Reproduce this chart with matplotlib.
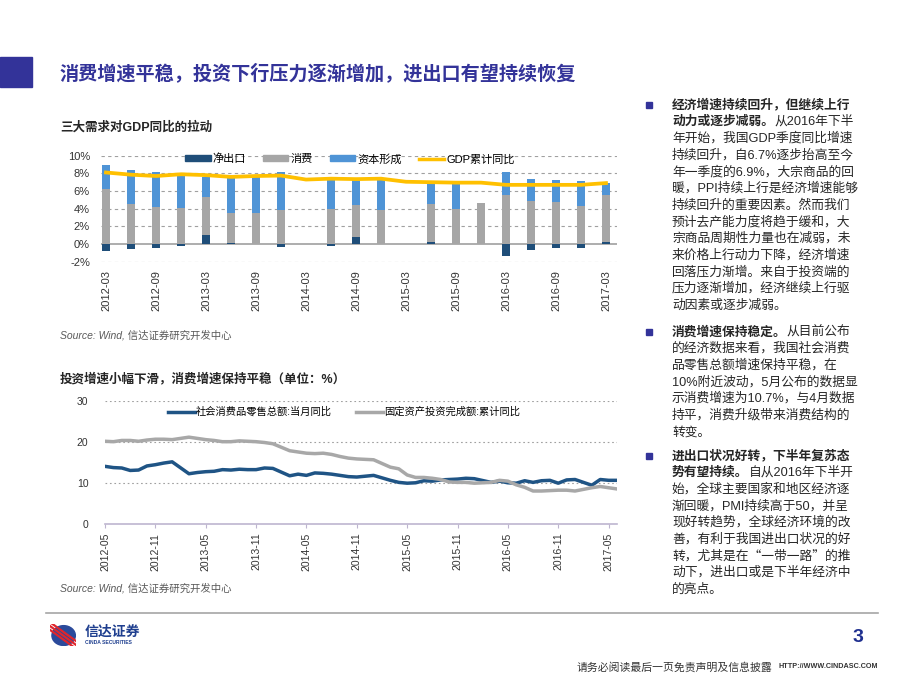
import matplotlib
matplotlib.use('Agg')
import matplotlib.pyplot as plt
import numpy as np
from matplotlib.patches import Rectangle, Patch, Circle
from matplotlib.lines import Line2D

# ---------------- data ----------------
quarters = ["2012-03", "2012-06", "2012-09", "2012-12", "2013-03", "2013-06", "2013-09",
            "2013-12", "2014-03", "2014-06", "2014-09", "2014-12", "2015-03", "2015-06",
            "2015-09", "2015-12", "2016-03", "2016-06", "2016-09", "2016-12", "2017-03"]
net_export = [-0.8, -0.6, -0.4, -0.2, 1.0, 0.1, 0.05, -0.3, np.nan, -0.2, 0.8, 0.0,
              np.nan, 0.25, 0.05, 0.0, -1.4, -0.7, -0.5, -0.5, 0.25]
consumption = [6.2, 4.5, 4.2, 4.1, 4.3, 3.4, 3.45, 3.9, np.nan, 4.0, 3.6, 3.8,
               np.nan, 4.25, 3.95, 4.6, 5.6, 4.9, 4.8, 4.3, 5.35]
capital = [2.7, 3.9, 3.9, 3.6, 2.25, 4.0, 4.05, 4.2, np.nan, 3.3, 2.9, 3.5,
           np.nan, 2.4, 2.9, 0.0, 2.5, 2.5, 2.5, 2.8, 1.3]
gdp_cum = [8.1, 7.85, 7.7, 7.9, 7.8, 7.6, 7.7, 7.75, 7.3, 7.4, 7.35, 7.4,
           7.05, 7.0, 6.95, 6.95, 6.7, 6.7, 6.7, 6.7, 6.9]
bar_legend = ["净出口", "消费", "资本形成", "GDP累计同比"]

# monthly data (January merged into February, as published)
months = ["2012-04", "2012-05", "2012-06", "2012-07", "2012-08", "2012-09", "2012-10", "2012-11", "2012-12",
          "2013-02", "2013-03", "2013-04", "2013-05", "2013-06", "2013-07", "2013-08", "2013-09", "2013-10", "2013-11", "2013-12",
          "2014-02", "2014-03", "2014-04", "2014-05", "2014-06", "2014-07", "2014-08", "2014-09", "2014-10", "2014-11", "2014-12",
          "2015-02", "2015-03", "2015-04", "2015-05", "2015-06", "2015-07", "2015-08", "2015-09", "2015-10", "2015-11", "2015-12",
          "2016-02", "2016-03", "2016-04", "2016-05", "2016-06", "2016-07", "2016-08", "2016-09", "2016-10", "2016-11", "2016-12",
          "2017-02", "2017-03", "2017-04", "2017-05"]
retail_yoy = [14.1, 13.8, 13.7, 13.1, 13.2, 14.2, 14.5, 14.9, 15.2,
              12.3, 12.6, 12.8, 12.9, 13.3, 13.2, 13.4, 13.3, 13.3, 13.7, 13.6,
              11.8, 12.2, 11.9, 12.5, 12.4, 12.2, 11.9, 11.6, 11.5, 11.7, 11.9,
              10.7, 10.2, 10.0, 10.1, 10.6, 10.5, 10.8, 10.9, 11.0, 11.2, 11.1,
              10.2, 10.5, 10.1, 10.0, 10.6, 10.2, 10.6, 10.7, 10.0, 10.8, 10.9,
              9.5, 10.9, 10.7, 10.7]
fai_cum_yoy = [20.2, 20.1, 20.4, 20.4, 20.2, 20.5, 20.7, 20.7, 20.6,
               21.2, 20.9, 20.6, 20.4, 20.1, 20.1, 20.3, 20.2, 20.1, 19.9, 19.6,
               17.9, 17.6, 17.3, 17.2, 17.3, 17.0, 16.5, 16.1, 15.9, 15.8, 15.7,
               13.9, 13.5, 12.0, 11.4, 11.4, 11.2, 10.9, 10.3, 10.2, 10.2, 10.0,
               10.2, 10.7, 10.5, 9.6, 9.0, 8.1, 8.1, 8.2, 8.3, 8.3, 8.1,
               8.9, 9.2, 8.9, 8.6]
month_ticks = ["2012-05", "2012-11", "2013-05", "2013-11", "2014-05", "2014-11",
               "2015-05", "2015-11", "2016-05", "2016-11", "2017-05"]
line_legend = ["社会消费品零售总额:当月同比", "固定资产投资完成额:累计同比"]

# ---------------- layout helpers ----------------
W, H = 920, 690
plt.rcParams['font.family'] = ['Liberation Sans', 'Noto Sans CJK SC', 'DejaVu Sans']
fig = plt.figure(figsize=(W / 100, H / 100), dpi=100)


def fx(x):
    return x / W


def fy(y):
    return 1 - y / H


def rect(l, t, r, b):
    return [l / W, 1 - b / H, (r - l) / W, (b - t) / H]


NAVY = '#333399'
TXT = '#262626'

# header
fig.patches.append(Rectangle((0, fy(87)), fx(32), 30 / H, transform=fig.transFigure,
                             color=NAVY, zorder=1))
fig.text(fx(60), fy(73), "消费增速平稳，投资下行压力逐渐增加，进出口有望持续恢复",
         fontsize=13.8, weight='bold', color=NAVY, va='center')

# ---------------- bar chart ----------------
fig.text(fx(60), fy(127), "三大需求对GDP同比的拉动", fontsize=9, weight='bold',
         color=TXT, va='center')
ax1 = fig.add_axes(rect(101, 155.7, 617, 261.7))
x = np.arange(len(quarters))
ne = np.array(net_export, dtype=float)
co = np.array(consumption, dtype=float)
ca = np.array(capital, dtype=float)
cons_bottom = np.where(ne > 0, ne, 0.0)
cap_bottom = cons_bottom + co
c_net, c_con, c_cap = '#1F4E79', '#A6A6A6', '#4F94D6'
bw = 0.35
ax1.bar(x, ne, width=bw, color=c_net, zorder=2)
ax1.bar(x, co, width=bw, bottom=cons_bottom, color=c_con, zorder=2)
ax1.bar(x, ca, width=bw, bottom=cap_bottom, color=c_cap, zorder=2)
ax1.plot(x, gdp_cum, color='#FFC000', lw=2.7, zorder=3)
ax1.axhline(0, color='#A0A0A0', lw=1.2, zorder=1)
ax1.set_xlim(-0.2, 20.44)
ax1.set_ylim(-2, 10)
ax1.set_yticks(np.arange(-2, 11, 2))
ax1.set_yticklabels([f"{v}%" for v in range(-2, 11, 2)])
ax1.set_xticks(x[::2])
ax1.set_xticklabels(quarters[::2], rotation=90)
for v in range(-2, 11, 2):
    if v != 0:
        ax1.axhline(v, color='#A0A0A0', lw=0.8, ls=(0, (3, 3)), zorder=0)
for s in ax1.spines.values():
    s.set_visible(False)
ax1.tick_params(length=0, labelsize=8, colors='#333333', pad=6)
ax1.tick_params(axis='y', pad=8)
handles = [Patch(color=c_net), Patch(color=c_con), Patch(color=c_cap),
           Line2D([], [], color='#FFC000', lw=2.5)]
ax1.legend(handles, bar_legend, loc='center left', bbox_to_anchor=(0.163, 0.969), ncol=4,
           frameon=False, fontsize=8, handlelength=2.3, handleheight=0.45,
           handletextpad=0.2, columnspacing=1.5, borderpad=0, borderaxespad=0)
fig.text(fx(60), fy(335), "Source: Wind, 信达证券研究开发中心", fontsize=7.5,
         style='italic', color='#595959', va='center')

# ---------------- line chart ----------------
fig.text(fx(60), fy(379), "投资增速小幅下滑，消费增速保持平稳（单位：%）", fontsize=9,
         weight='bold', color=TXT, va='center')
ax2 = fig.add_axes(rect(105, 401, 617, 524.3))
mpos = np.array([(int(m[:4]) - 2012) * 12 + int(m[5:]) - 4 for m in months])
ax2.plot(mpos, retail_yoy, color='#1F5485', lw=2.5, zorder=3)
ax2.plot(mpos, fai_cum_yoy, color='#A8A8A8', lw=2.5, zorder=3)
ax2.set_xlim(0, 61)
ax2.set_ylim(0, 30)
ax2.set_yticks([0, 10, 20, 30])
for v in (10, 20, 30):
    ax2.axhline(v, color='#A0A0A0', lw=0.8, ls=(0, (1.5, 2.5)), zorder=0)
ax2.set_xticks(np.arange(0, 61, 6))
ax2.set_xticklabels(month_ticks, rotation=90)
for k, s in ax2.spines.items():
    s.set_visible(k == 'bottom')
ax2.spines['bottom'].set_color('#BDB5CF')
ax2.spines['bottom'].set_linewidth(1.2)
ax2.tick_params(axis='x', length=3, color='#BDB5CF', labelsize=7.5, labelcolor='#333333', pad=3)
ax2.tick_params(axis='y', length=0, labelsize=7.5, colors='#333333', pad=12)
ax2.legend([Line2D([], [], color='#1F5485', lw=2.5), Line2D([], [], color='#A8A8A8', lw=2.5)],
           line_legend, loc='center left', bbox_to_anchor=(0.123, 0.911), ncol=2,
           frameon=False, fontsize=7.4, handlelength=2.6, handletextpad=0.15,
           columnspacing=2.3, borderpad=0, borderaxespad=0)
fig.text(fx(60), fy(588), "Source: Wind, 信达证券研究开发中心", fontsize=7.5,
         style='italic', color='#595959', va='center')

# ---------------- right text column ----------------
paras = [
    (105, [("经济增速持续回升，但继续上行", ""),
           ("动力或逐步减弱。", "从2016年下半"),
           ("", "年开始，我国GDP季度同比增速"),
           ("", "持续回升，自6.7%逐步抬高至今"),
           ("", "年一季度的6.9%，大宗商品的回"),
           ("", "暖，PPI持续上行是经济增速能够"),
           ("", "持续回升的重要因素。然而我们"),
           ("", "预计去产能力度将趋于缓和，大"),
           ("", "宗商品周期性力量也在减弱，未"),
           ("", "来价格上行动力下降，经济增速"),
           ("", "回落压力渐增。来自于投资端的"),
           ("", "压力逐渐增加，经济继续上行驱"),
           ("", "动因素或逐步减弱。")]),
    (332, [("消费增速保持稳定。", "从目前公布"),
           ("", "的经济数据来看，我国社会消费"),
           ("", "品零售总额增速保持平稳，在"),
           ("", "10%附近波动，5月公布的数据显"),
           ("", "示消费增速为10.7%，与4月数据"),
           ("", "持平，消费升级带来消费结构的"),
           ("", "转变。")]),
    (456, [("进出口状况好转，下半年复苏态", ""),
           ("势有望持续。", "自从2016年下半开"),
           ("", "始，全球主要国家和地区经济逐"),
           ("", "渐回暖，PMI持续高于50，并呈"),
           ("", "现好转趋势，全球经济环境的改"),
           ("", "善，有利于我国进出口状况的好"),
           ("", "转，尤其是在“一带一路”的推"),
           ("", "动下，进出口或是下半年经济中"),
           ("", "的亮点。")]),
]
renderer = fig.canvas.get_renderer()
LS = 16.7
for y0, lines in paras:
    fig.patches.append(Rectangle((fx(646), fy(y0 + 3)), fx(6), 6 / H,
                                 transform=fig.transFigure, color=NAVY))
    for i, (b, n) in enumerate(lines):
        yy = fy(y0 + i * LS)
        xx = fx(672)
        if b:
            t = fig.text(xx, yy, b, fontsize=9.2, weight='bold', color=TXT, va='center')
            bb = t.get_window_extent(renderer)
            xx = bb.x1 / fig.bbox.width
        if n:
            kw = {}
            if '“' in n:
                kw['family'] = ['Noto Sans CJK SC', 'DejaVu Sans']
            fig.text(xx, yy, n, fontsize=9.2, color=TXT, va='center', **kw)

# ---------------- footer ----------------
fig.add_artist(Line2D([fx(46), fx(878)], [fy(613), fy(613)], color='#A6A6A6', lw=1.2))
lax = fig.add_axes(rect(50, 624, 76, 646))
lax.set_xlim(-1, 1)
lax.set_ylim(-1, 1)
lax.axis('off')
lax.add_patch(Circle((0.05, -0.05), 0.9, color='#2B4A9B'))
for off in (-0.35, 0.0, 0.35):
    lax.plot([-1.1, 1.0], [0.9 + off, -0.9 + off], color='#E0262C', lw=1.6)
fig.text(fx(85), fy(632), "信达证券", fontsize=10, weight='bold', color='#1F3F8F', va='center')
fig.text(fx(85), fy(643), "CINDA SECURITIES", fontsize=3.6, weight='bold', color='#1F3F8F',
         va='center')
fig.text(fx(858), fy(638), "3", fontsize=14, weight='bold', color='#1F2F8F', va='center',
         ha='center')
ft = fig.text(fx(878), fy(667), "HTTP://WWW.CINDASC.COM", fontsize=5.2, weight='bold',
              color='#333333', va='center', ha='right')
bb = ft.get_window_extent(renderer)
fig.text((bb.x0 - 6) / fig.bbox.width, fy(667), "请务必阅读最后一页免责声明及信息披露",
         fontsize=7.8, color='#333333', va='center', ha='right')

fig.savefig('out.png', dpi=100)
